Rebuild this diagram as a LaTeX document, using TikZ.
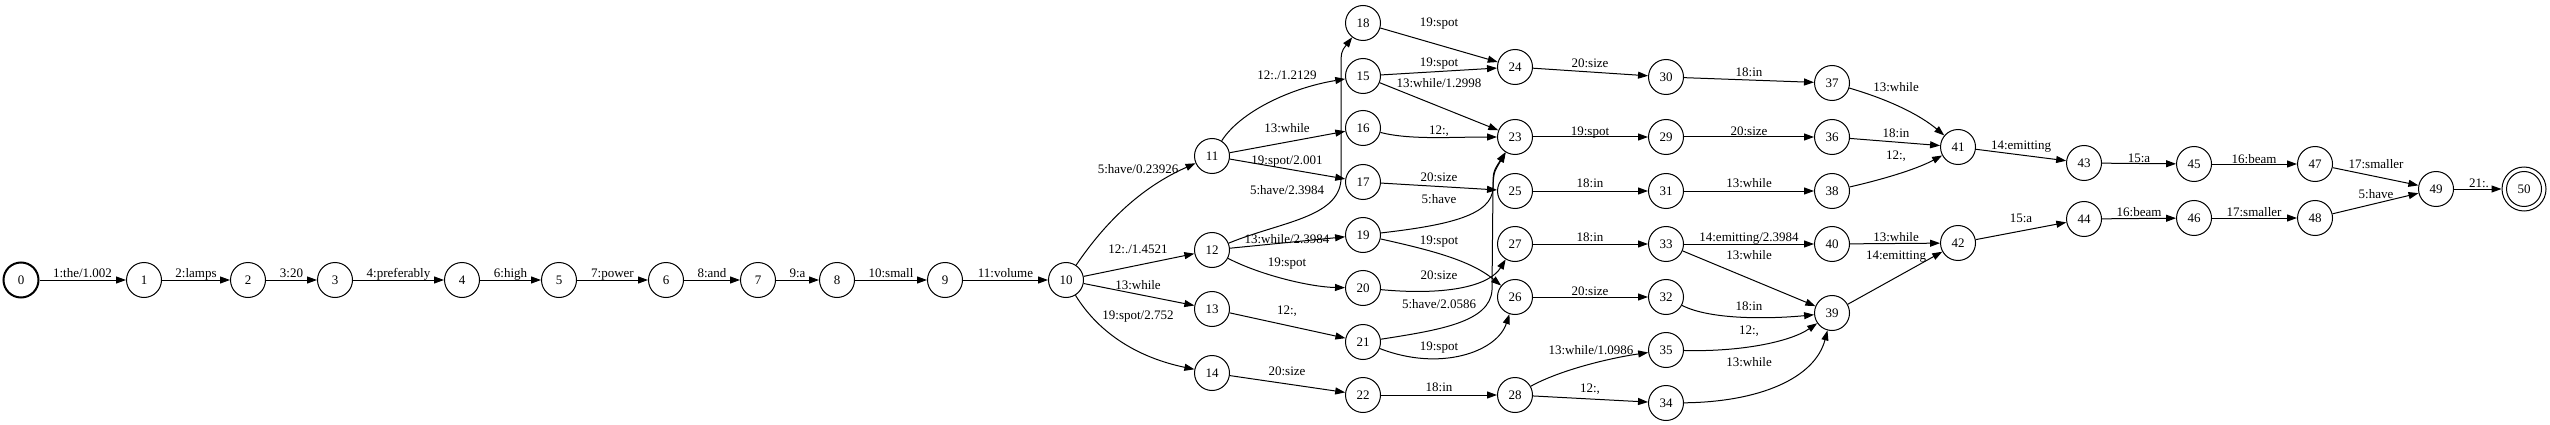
\documentclass[tikz,border=0pt]{standalone}
\usepackage{fontspec}
\setmainfont{Liberation Serif}
\usetikzlibrary{arrows.meta}
\begin{document}
\begin{tikzpicture}[x=1pt,y=-1pt,
  st/.style={circle, draw, line width=1pt, minimum size=35pt, inner sep=0pt,
    font=\fontsize{13}{15}\selectfont, text height=8.8pt, text depth=0pt},
  startst/.style={st, line width=2pt},
  lb/.style={inner sep=0pt, font=\fontsize{13}{15}\selectfont, text height=8.8pt, text depth=0pt},
  e/.style={draw, line width=1pt, -{Triangle[length=10pt,width=7pt]}}]
\useasboundingbox (0,0) rectangle (2550,425);
% states
\node[startst] (n0) at (21,280) {0};
\node[st] (n1) at (144,280) {1};
\node[st] (n2) at (248,280) {2};
\node[st] (n3) at (335,280) {3};
\node[st] (n4) at (462,280) {4};
\node[st] (n5) at (559,280) {5};
\node[st] (n6) at (666,280) {6};
\node[st] (n7) at (758,280) {7};
\node[st] (n8) at (837,280) {8};
\node[st] (n9) at (945,280) {9};
\node[st] (n10) at (1066,280) {10};
\node[st] (n11) at (1212,156) {11};
\node[st] (n12) at (1212,250) {12};
\node[st] (n13) at (1212,309) {13};
\node[st] (n14) at (1212,373) {14};
\node[st] (n18) at (1363,23) {18};
\node[st] (n15) at (1363,76) {15};
\node[st] (n16) at (1363,128) {16};
\node[st] (n17) at (1363,182) {17};
\node[st] (n19) at (1363,235) {19};
\node[st] (n20) at (1363,288) {20};
\node[st] (n21) at (1363,342) {21};
\node[st] (n22) at (1363,395) {22};
\node[st] (n24) at (1515,67) {24};
\node[st] (n23) at (1515,137) {23};
\node[st] (n25) at (1515,191) {25};
\node[st] (n27) at (1515,244) {27};
\node[st] (n26) at (1515,297) {26};
\node[st] (n28) at (1515,395) {28};
\node[st] (n30) at (1666,77) {30};
\node[st] (n29) at (1666,137) {29};
\node[st] (n31) at (1666,191) {31};
\node[st] (n33) at (1666,244) {33};
\node[st] (n32) at (1666,297) {32};
\node[st] (n35) at (1666,350) {35};
\node[st] (n34) at (1666,403) {34};
\node[st] (n37) at (1832,83) {37};
\node[st] (n36) at (1832,137) {36};
\node[st] (n38) at (1832,191) {38};
\node[st] (n40) at (1832,244) {40};
\node[st] (n39) at (1832,313) {39};
\node[st] (n41) at (1958,147) {41};
\node[st] (n42) at (1958,243) {42};
\node[st] (n43) at (2084,163) {43};
\node[st] (n44) at (2084,219) {44};
\node[st] (n45) at (2194,164) {45};
\node[st] (n46) at (2194,218) {46};
\node[st] (n47) at (2315,164) {47};
\node[st] (n48) at (2315,218) {48};
\node[st] (n49) at (2436,189) {49};
\node[st, minimum size=44pt] (n50) at (2524,189) {50};
\draw[line width=1pt] (n50.center) circle[radius=17.5];
% chain edges
\draw[e] (n0) -- (n1);  \node[lb] (l0) at (82.5,273) {1:the/1.002};
\draw[e] (n1) -- (n2);  \node[lb] (l1) at (196,273) {2:lamps};
\draw[e] (n2) -- (n3);  \node[lb] (l2) at (291.5,273) {3:20};
\draw[e] (n3) -- (n4);  \node[lb] (l3) at (398.5,273) {4:preferably};
\draw[e] (n4) -- (n5);  \node[lb] (l4) at (510.5,273) {6:high};
\draw[e] (n5) -- (n6);  \node[lb] (l5) at (612.5,273) {7:power};
\draw[e] (n6) -- (n7);  \node[lb] (l6) at (712,273) {8:and};
\draw[e] (n7) -- (n8);  \node[lb] (l7) at (797.5,273) {9:a};
\draw[e] (n8) -- (n9);  \node[lb] (l8) at (891,273) {10:small};
\draw[e] (n9) -- (n10); \node[lb] (l9) at (1005.5,273) {11:volume};
% from 10
\draw[e] (n10) .. controls (1100,230) and (1135,190) .. (n11);
\node[lb] (l10a) at (1138,169) {5:have/0.23926};
\draw[e] (n10) -- (n12);
\node[lb] (l10b) at (1138,249) {12:./1.4521};
\draw[e] (n10) -- (n13);
\node[lb] (l10c) at (1138,285) {13:while};
\draw[e] (n10) .. controls (1100,335) and (1140,358) .. (n14);
\node[lb] (l10d) at (1138,315) {19:spot/2.752};
% from 11
\draw[e] (n11) .. controls (1240,112) and (1290,88) .. (n15);
\node[lb] (l11a) at (1287,75) {12:./1.2129};
\draw[e] (n11) -- (n16);
\node[lb] (l11b) at (1287,128) {13:while};
\draw[e] (n11) -- (n17);
\node[lb] (l11c) at (1287,160) {19:spot/2.001};
% from 12
\draw[e] (n12) .. controls (1280,222) and (1338,218) .. (1341,180) -- (1341,70) .. controls (1341,52) .. (n18);
\node[lb] (l12a) at (1287,190) {5:have/2.3984};
\draw[e] (n12) -- (n19);
\node[lb] (l12b) at (1287,239) {13:while/2.3984};
\draw[e] (n12) .. controls (1260,275) and (1310,287) .. (n20);
\node[lb] (l12c) at (1287,262) {19:spot};
% 13, 14
\draw[e] (n13) -- (n21);
\node[lb] (l13) at (1287,310) {12:,};
\draw[e] (n14) -- (n22);
\node[lb] (l14) at (1287,371) {20:size};
% column 15-22 out
\draw[e] (n18) -- (n24);
\node[lb] (l18) at (1439,22) {19:spot};
\draw[e] (n15) -- (n24);
\node[lb] (l15a) at (1439,62) {19:spot};
\draw[e] (n15) -- (n23);
\node[lb] (l15b) at (1439,83) {13:while/1.2998};
\draw[e] (n16) .. controls (1410,140) and (1450,137) .. (n23);
\node[lb] (l16) at (1439,130) {12:,};
\draw[e] (n17) -- (n25);
\node[lb] (l17) at (1439,177) {20:size};
\draw[e] (n19) .. controls (1450,225) and (1492,215) .. (1493,188) .. controls (1493,172) .. (n23);
\node[lb] (l19a) at (1439,199) {5:have};
\draw[e] (n19) .. controls (1430,250) and (1470,260) .. (n26);
\node[lb] (l19b) at (1439,240) {19:spot};
\draw[e] (n20) .. controls (1450,296) and (1490,285) .. (n27);
\node[lb] (l20) at (1439,275) {20:size};
\draw[e] (n21) .. controls (1440,330) and (1490,322) .. (1492,290) -- (1493,185) .. controls (1494,172) .. (n23);
\node[lb] (l21a) at (1439,304) {5:have/2.0586};
\draw[e] (n21) .. controls (1440,372) and (1497,352) .. (n26);
\node[lb] (l21b) at (1439,346) {19:spot};
\draw[e] (n22) -- (n28);
\node[lb] (l22) at (1439,387) {18:in};
% column 23-28 out
\draw[e] (n24) -- (n30);
\node[lb] (l24) at (1590,63) {20:size};
\draw[e] (n23) -- (n29);
\node[lb] (l23) at (1590,131) {19:spot};
\draw[e] (n25) -- (n31);
\node[lb] (l25) at (1590,183) {18:in};
\draw[e] (n27) -- (n33);
\node[lb] (l27) at (1590,237) {18:in};
\draw[e] (n26) -- (n32);
\node[lb] (l26) at (1590,291) {20:size};
\draw[e] (n28) .. controls (1560,370) and (1610,358) .. (n35);
\node[lb] (l28a) at (1591,350) {13:while/1.0986};
\draw[e] (n28) -- (n34);
\node[lb] (l28b) at (1590,388) {12:,};
% column 29-35 out
\draw[e] (n30) -- (n37);
\node[lb] (l30) at (1749,72) {18:in};
\draw[e] (n29) -- (n36);
\node[lb] (l29) at (1749,131) {20:size};
\draw[e] (n31) -- (n38);
\node[lb] (l31) at (1749,183) {13:while};
\draw[e] (n33) -- (n40);
\node[lb] (l33a) at (1749,237) {14:emitting/2.3984};
\draw[e] (n33) -- (n39);
\node[lb] (l33b) at (1749,255) {13:while};
\draw[e] (n32) .. controls (1710,320) and (1770,319) .. (n39);
\node[lb] (l32) at (1749,306) {18:in};
\draw[e] (n35) .. controls (1740,352) and (1790,342) .. (n39);
\node[lb] (l35) at (1749,330) {12:,};
\draw[e] (n34) .. controls (1760,402) and (1815,378) .. (n39);
\node[lb] (l34) at (1749,362) {13:while};
% column 36-40 out
\draw[e] (n37) .. controls (1890,100) and (1920,115) .. (n41);
\node[lb] (l37) at (1896,87) {13:while};
\draw[e] (n36) -- (n41);
\node[lb] (l36) at (1896,133) {18:in};
\draw[e] (n38) .. controls (1880,180) and (1915,170) .. (n41);
\node[lb] (l38) at (1896,155) {12:,};
\draw[e] (n40) -- (n42);
\node[lb] (l40) at (1896,237) {13:while};
\draw[e] (n39) -- (n42);
\node[lb] (l39) at (1896,255) {14:emitting};
% tail
\draw[e] (n41) -- (n43);
\node[lb] (l41) at (2021,145) {14:emitting};
\draw[e] (n42) -- (n44);
\node[lb] (l42) at (2021,218) {15:a};
\draw[e] (n43) -- (n45);
\node[lb] (l43) at (2139,158) {15:a};
\draw[e] (n44) -- (n46);
\node[lb] (l44) at (2139,212) {16:beam};
\draw[e] (n45) -- (n47);
\node[lb] (l45) at (2254,159) {16:beam};
\draw[e] (n46) -- (n48);
\node[lb] (l46) at (2254,212) {17:smaller};
\draw[e] (n47) -- (n49);
\node[lb] (l47) at (2376,164) {17:smaller};
\draw[e] (n48) -- (n49);
\node[lb] (l48) at (2376,194) {5:have};
\draw[e] (n49) -- (n50);
\node[lb] (l49) at (2479,183) {21:.};
\end{tikzpicture}
\end{document}
